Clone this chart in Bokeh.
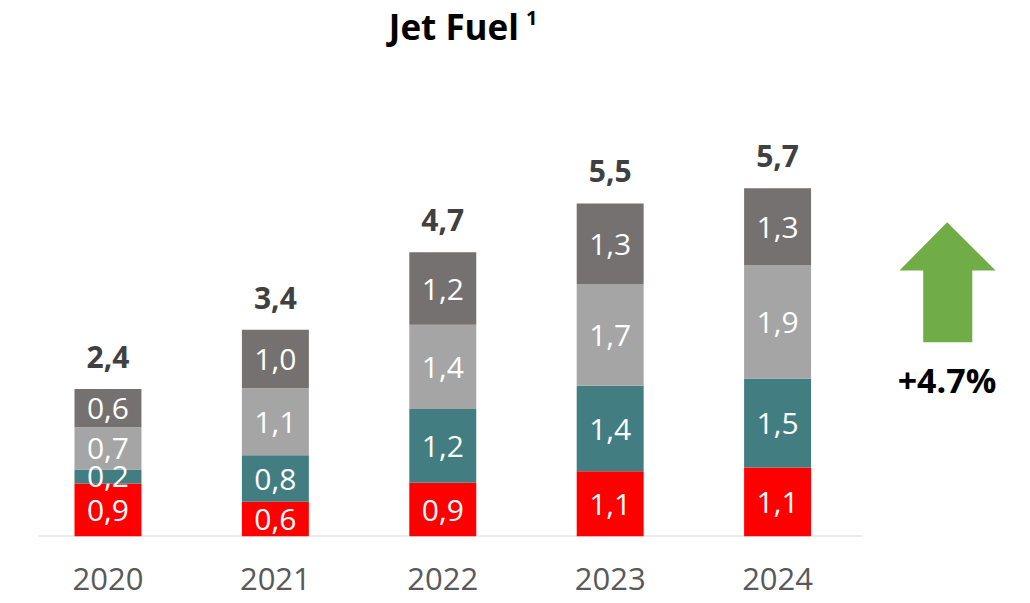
from bokeh.plotting import figure
from bokeh.models import ColumnDataSource, Range1d, FixedTicker
from bokeh.core.properties import value
from bokeh.embed import file_html
from bokeh.resources import INLINE

# ---- data ----
years = ["2020", "2021", "2022", "2023", "2024"]
seg_red = [0.87, 0.57, 0.88, 1.07, 1.13]
seg_teal = [0.23, 0.76, 1.21, 1.40, 1.46]
seg_light = [0.69, 1.10, 1.38, 1.67, 1.86]
seg_dark = [0.63, 0.96, 1.19, 1.32, 1.26]
growth_label = "+4.7%"
title_text = "Jet Fuel"
title_sup = "1"

# ---- styles ----
colors = ["#FF0000", "#427E81", "#A5A5A5", "#767171"]
FONT = "Open Sans"

def fmt(v):
    return f"{v:.1f}".replace(".", ",")

xs = list(range(len(years)))
series = [seg_red, seg_teal, seg_light, seg_dark]
names = ["red", "teal", "light", "dark"]
data = {"x": xs}
for n, s in zip(names, series):
    data[n] = s
src = ColumnDataSource(data)

p = figure(width=1022, height=603, output_backend="svg", toolbar_location=None,
           x_range=Range1d(-0.642, 5.463), y_range=Range1d(0, 8.787),
           min_border_left=0, min_border_right=0, min_border_top=0, min_border_bottom=67)
p.outline_line_color = None
p.xgrid.visible = False
p.ygrid.visible = False
p.yaxis.visible = False
p.background_fill_color = "white"
p.border_fill_color = "white"

p.xaxis.ticker = FixedTicker(ticks=xs)
p.xaxis.major_label_overrides = {i: y for i, y in enumerate(years)}
p.xaxis.axis_line_color = None
p.xaxis.major_tick_line_color = None
p.xaxis.minor_tick_line_color = None
p.xaxis.major_label_text_font = FONT
p.xaxis.major_label_text_font_size = "31px"
p.xaxis.major_label_text_color = "#595959"
p.xaxis.major_label_standoff = 25

# baseline
p.segment(x0=[-0.415], y0=[0], x1=[4.507], y1=[0], line_color="#D9D9D9", line_width=2)

p.vbar_stack(names, x="x", width=0.40, color=colors, source=src, line_color=None)

# segment labels
lx, ly, lt = [], [], []
for i in xs:
    base = 0.0
    for s in series:
        v = s[i]
        lx.append(i)
        ly.append(base + v / 2)
        lt.append(fmt(v))
        base += v
p.text(x=lx, y=ly, text=lt, text_color="white", text_font=value(FONT),
       text_font_size="30px", text_align="center", text_baseline="alphabetic",
       y_offset=0.5)

# totals
totals = [sum(s[i] for s in series) for i in xs]
p.text(x=xs, y=totals, text=[fmt(t) for t in totals], text_color="#404040",
       text_font=value(FONT), text_font_style="bold", text_font_size="30px",
       text_align="center", text_baseline="alphabetic", y_offset=-32)

# title
p.text(x=[2.455], y=[8.366], text=[title_text], text_color="black",
       text_font=value(FONT), text_font_style="bold", text_font_size="35px",
       text_align="right", text_baseline="alphabetic")
p.text(x=[2.497], y=[8.50], text=[title_sup], text_color="black",
       text_font=value(FONT), text_font_style="bold", text_font_size="20px",
       text_align="left", text_baseline="alphabetic")

# growth arrow
ax = [5.013, 5.302, 5.163, 5.163, 4.870, 4.870, 4.728]
ay = [5.152, 4.361, 4.361, 3.185, 3.185, 4.361, 4.361]
p.patch(ax, ay, fill_color="#70AD47", line_color=None)
p.text(x=[5.012], y=[2.558], text=[growth_label], text_color="black",
       text_font=value(FONT), text_font_style="bold", text_font_size="34px",
       text_align="center", text_baseline="alphabetic")

open("out.html", "w").write(file_html(p, INLINE))
